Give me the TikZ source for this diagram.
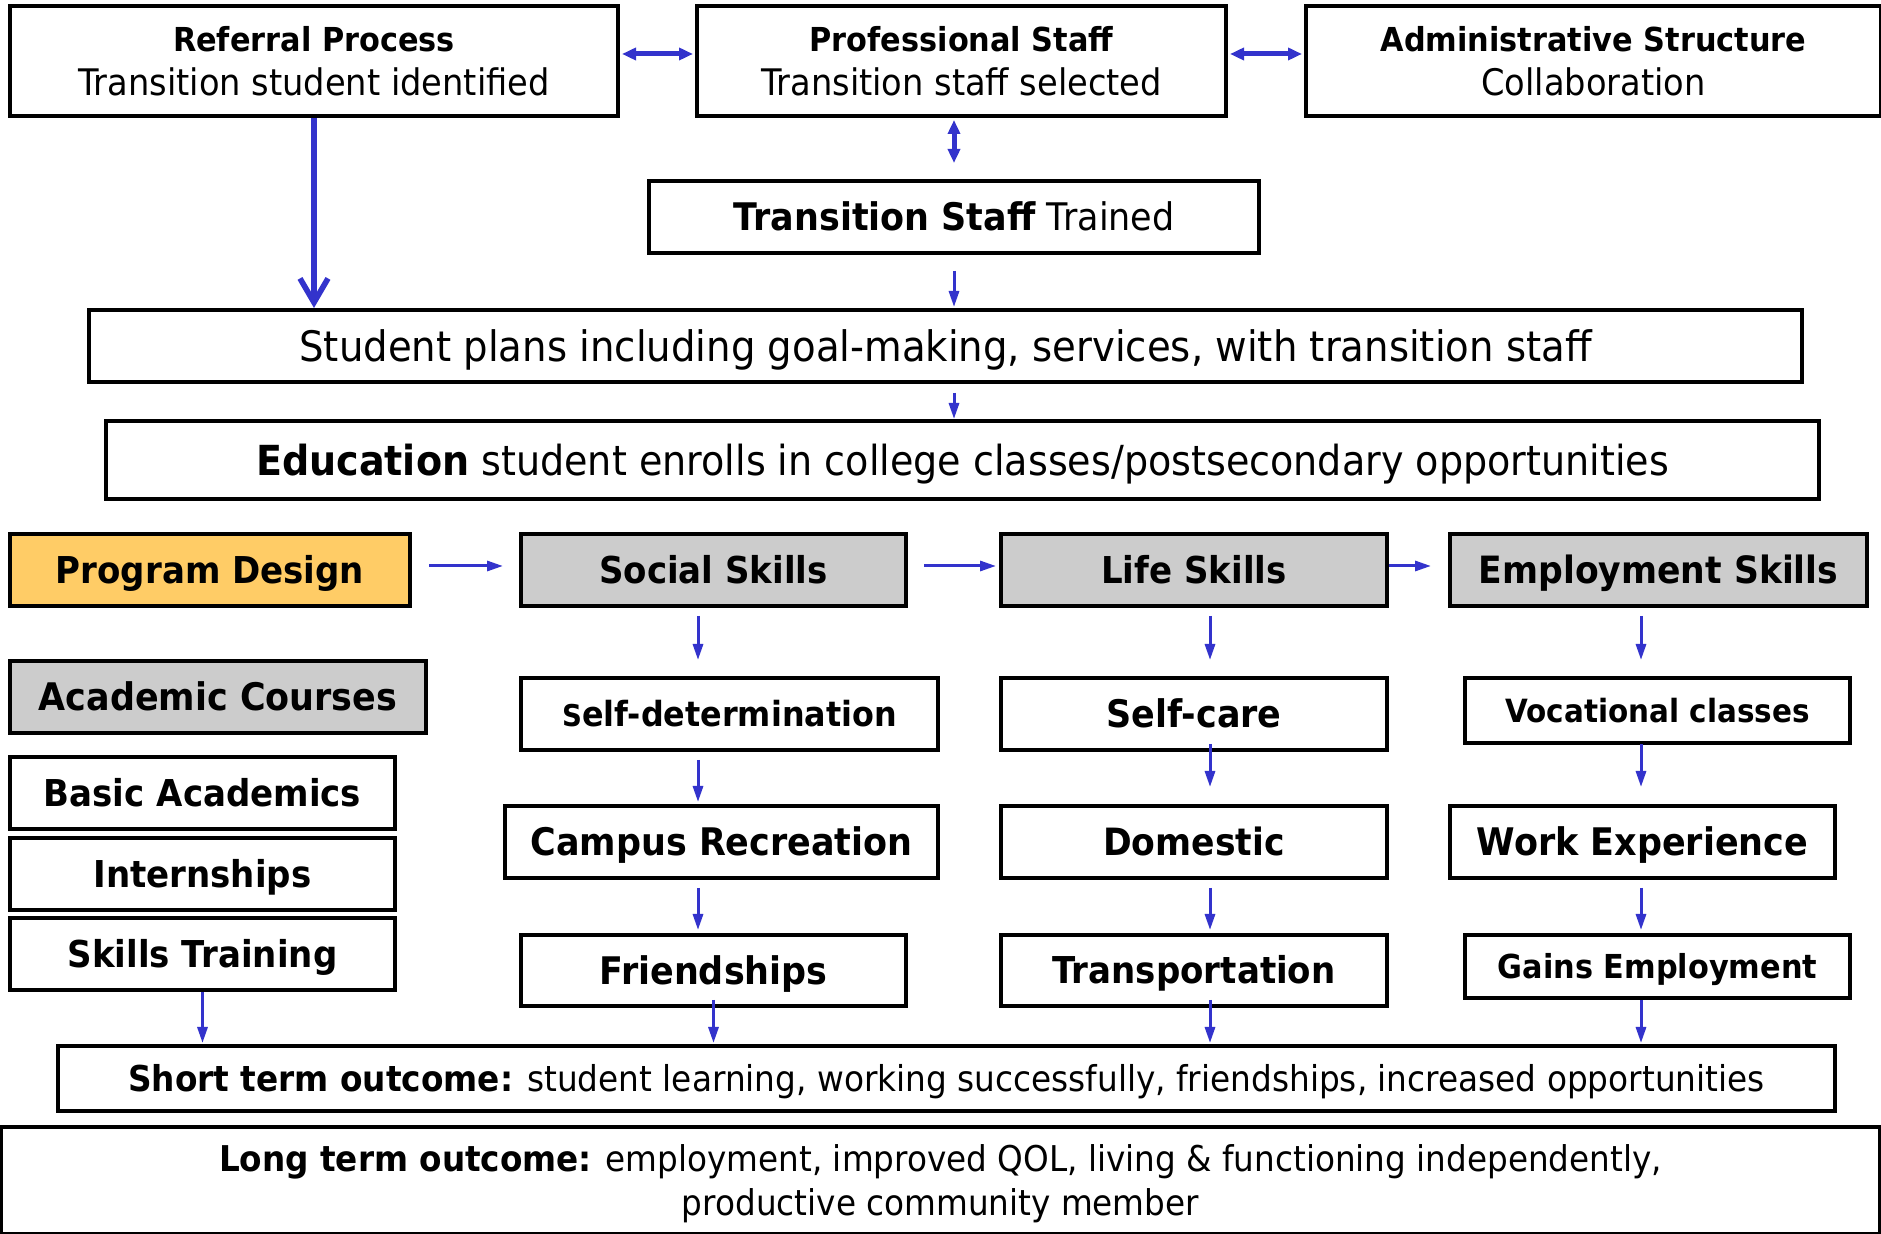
\documentclass[tikz,border=0pt]{standalone}
\usepackage{fontspec}
\setmainfont{DejaVu Sans}[FakeStretch=0.92]
\usetikzlibrary{arrows.meta,calc}
\definecolor{arrowblue}{HTML}{3333CC}
\definecolor{boxgray}{HTML}{CCCCCC}
\definecolor{boxorange}{HTML}{FFCC66}
\newcommand\fsz[1]{\fontsize{#1}{22}\selectfont}
\begin{document}
\begin{tikzpicture}[x=0.5pt,y=-0.5pt,
  box/.style={draw=black, line width=2pt, fill=white, inner sep=0pt, align=center},
  graybox/.style={box, fill=boxgray},
  orangebox/.style={box, fill=boxorange},
  capht/.style={text height=#1, text depth=0pt},
  arr/.style={draw=arrowblue, line width=1.5pt, -{Triangle[length=8pt,width=5pt]}},
  dbl/.style={draw=arrowblue, line width=2.5pt, {Triangle[length=7pt,width=6pt]}-{Triangle[length=7pt,width=6pt]}},
  bigarr/.style={draw=arrowblue, line width=2.8pt, -{Straight Barb[length=12pt,width=14pt]}}
]
\useasboundingbox (0,0) rectangle (1881,1234);
\fill[white] (0,0) rectangle (1881,1234);

% top row
\node[box, minimum width=304pt, minimum height=55pt, font=\fsz{18.3}] (ref) at (314,61)
  {{\bfseries\fsz{16.5}Referral Process}\\Transition student identified};
\node[box, minimum width=264.5pt, minimum height=55pt, font=\fsz{18.3}] (prof) at (961.5,61)
  {{\bfseries\fsz{16.5}Professional Staff}\\Transition staff selected};
\node[box, minimum width=287.5pt, minimum height=55pt, font=\fsz{18.3}] (admin) at (1593.5,61)
  {{\bfseries\fsz{16.5}Administrative Structure}\\Collaboration};
\node[box, capht=13.9pt, minimum width=305pt, minimum height=36pt, font=\fsz{19}] (trained) at (954,217)
  {\textbf{Transition Staff} Trained};
\node[box, capht=15.3pt, minimum width=856.5pt, minimum height=36pt, font=\fsz{21}] (plans) at (945.5,346)
  {Student plans including goal-making, services, with transition staff};
\node[box, capht=15.1pt, minimum width=856.5pt, minimum height=39pt, font=\fsz{20.7}] (edu) at (962.5,460)
  {\textbf{Education} student enrolls in college classes/postsecondary opportunities};

% skills row
\node[orangebox, capht=13.5pt, minimum width=200pt, minimum height=36pt, font=\bfseries\fsz{18.5}] (prog) at (210,570) {Program Design};
\node[graybox, capht=13.5pt, minimum width=192.5pt, minimum height=36pt, font=\bfseries\fsz{18.5}] (social) at (713.5,570) {Social Skills};
\node[graybox, capht=13.5pt, minimum width=193pt, minimum height=36pt, font=\bfseries\fsz{18.5}] (life) at (1194,570) {Life Skills};
\node[graybox, capht=13.7pt, minimum width=208.5pt, minimum height=36pt, font=\bfseries\fsz{18.8}] (emp) at (1658.5,570) {Employment Skills};

% academic column
\node[graybox, capht=13.9pt, minimum width=208pt, minimum height=36pt, font=\bfseries\fsz{19}] (acad) at (218,697) {Academic Courses};
\node[box, capht=13.5pt, minimum width=192.5pt, minimum height=36pt, font=\bfseries\fsz{18.5}] (basic) at (202.5,793) {Basic Academics};
\node[box, capht=13.5pt, minimum width=192.5pt, minimum height=36pt, font=\bfseries\fsz{18.5}] (intern) at (202.5,874) {Internships};
\node[box, capht=13.5pt, minimum width=192.5pt, minimum height=36pt, font=\bfseries\fsz{18.5}] (skillst) at (202.5,954) {Skills Training};

% social column
\node[box, capht=12.6pt, minimum width=208.5pt, minimum height=36pt, font=\bfseries\fsz{17.3}] (selfdet) at (729.5,714) {{\fsz{15}S}elf-determination};
\node[box, capht=13.9pt, minimum width=216.5pt, minimum height=36pt, font=\bfseries\fsz{19}] (campus) at (721.5,842) {Campus Recreation};
\node[box, capht=13.9pt, minimum width=192.5pt, minimum height=35.5pt, font=\bfseries\fsz{19}] (friend) at (713.5,970.5) {Friendships};

% life column
\node[box, capht=13.9pt, minimum width=193pt, minimum height=36pt, font=\bfseries\fsz{19}] (selfcare) at (1194,714) {Self-care};
\node[box, capht=13.7pt, minimum width=193pt, minimum height=36pt, font=\bfseries\fsz{18.8}] (domestic) at (1194,842) {Domestic};
\node[box, capht=13.5pt, minimum width=193pt, minimum height=35.5pt, font=\bfseries\fsz{18.5}] (transport) at (1194,970.5) {Transportation};

% employment column
\node[box, capht=11.7pt, minimum width=192.5pt, minimum height=32.5pt, font=\bfseries\fsz{16}] (voc) at (1657.5,710.5) {Vocational classes};
\node[box, capht=13.9pt, minimum width=192.5pt, minimum height=36pt, font=\bfseries\fsz{19}] (work) at (1642.5,842) {Work Experience};
\node[box, capht=12pt, minimum width=192.5pt, minimum height=31.5pt, font=\bfseries\fsz{16.5}] (gains) at (1657.5,966.5) {Gains Employment};

% outcomes
\node[box, capht=13pt, minimum width=888.5pt, minimum height=32.5pt, font=\fsz{17.8}] (short) at (946.5,1078.5)
  {\textbf{Short term outcome:} student learning, working successfully, friendships, increased opportunities};
\node[box, text depth=0pt, minimum width=939.5pt, minimum height=53.5pt, font=\fsz{17.75}] (long) at (940.5,1180)
  {\textbf{Long term outcome:} employment, improved QOL, living \& functioning independently,\\productive community member};

% column x positions
\coordinate (cS) at (698,0);
\coordinate (cL) at (1210,0);
\coordinate (cE) at (1641,0);
\coordinate (cT) at (954,0);

% top connectors
\draw[dbl] ($(ref.east)+(2,-7)$) -- ($(prof.west)+(-2,-7)$);
\draw[dbl] ($(prof.east)+(2,-7)$) -- ($(admin.west)+(-2,-7)$);
\draw[dbl] ($(prof.south -| cT)+(0,2)$) -- ($(trained.north -| cT)+(0,-16)$);
\draw[bigarr] (ref.south) -- (ref.south |- plans.north);
\draw[arr] ($(trained.south -| cT)+(0,16)$) -- ($(plans.north -| cT)+(0,-1)$);
\draw[arr] ($(plans.south -| cT)+(0,9)$) -- (cT |- edu.north);

% skills row connectors
\draw[arr] ($(prog.east)+(17,-4)$) -- ($(social.west)+(-16,-4)$);
\draw[arr] ($(social.east)+(16,-4)$) -- ($(life.west)+(-3,-4)$);
\draw[arr] ($(life.east)+(0,-4)$) -- ($(emp.west)+(-17,-4)$);

% columns
\draw[arr] ($(social.south -| cS)+(0,8)$) -- ($(selfdet.north -| cS)+(0,-16)$);
\draw[arr] ($(selfdet.south -| cS)+(0,8)$) -- ($(campus.north -| cS)+(0,-2)$);
\draw[arr] ($(campus.south -| cS)+(0,8)$) -- ($(friend.north -| cS)+(0,-3)$);

\draw[arr] ($(life.south -| cL)+(0,8)$) -- ($(selfcare.north -| cL)+(0,-16)$);
\draw[arr] ($(selfcare.south -| cL)+(0,-8)$) -- ($(domestic.north -| cL)+(0,-17)$);
\draw[arr] ($(domestic.south -| cL)+(0,8)$) -- ($(transport.north -| cL)+(0,-3)$);

\draw[arr] ($(emp.south -| cE)+(0,8)$) -- ($(voc.north -| cE)+(0,-16)$);
\draw[arr] ($(voc.south -| cE)+(0,-1)$) -- ($(work.north -| cE)+(0,-17)$);
\draw[arr] ($(work.south -| cE)+(0,8)$) -- ($(gains.north -| cE)+(0,-3)$);

% to short term outcome
\draw[arr] (skillst.south) -- ($(skillst.south |- short.north)+(0,-1)$);
\draw[arr] ($(friend.south)+(0,-8)$) -- ($(friend.south |- short.north)+(0,-1)$);
\draw[arr] ($(transport.south -| cL)+(0,-8)$) -- ($(cL |- short.north)+(0,-1)$);
\draw[arr] (gains.south -| cE) -- ($(cE |- short.north)+(0,-1)$);
\end{tikzpicture}
\end{document}
